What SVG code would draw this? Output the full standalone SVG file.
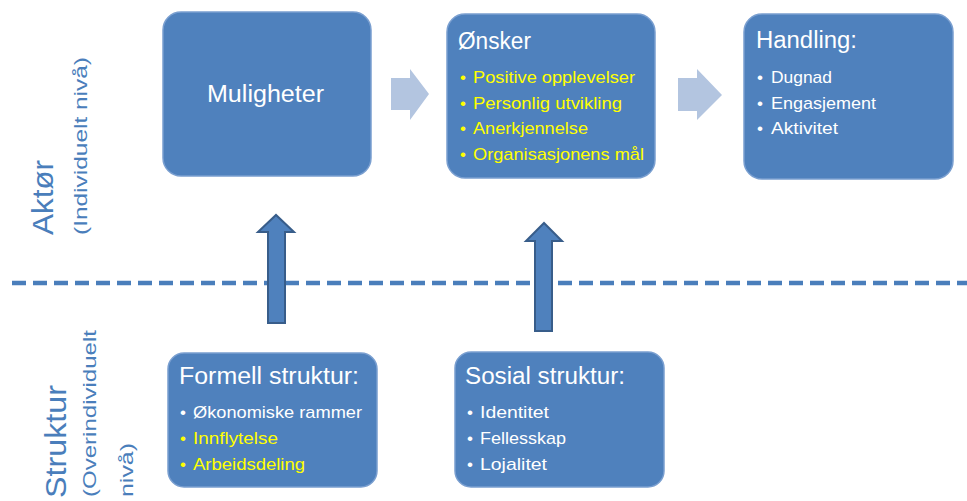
<svg xmlns="http://www.w3.org/2000/svg" width="967" height="501" viewBox="0 0 967 501">
<style>
.box{fill:#4F81BD;stroke:#7A9FD0;stroke-width:1.5}
.t{font-family:"Liberation Sans",Arial,sans-serif;fill:#FFFFFF}
.title{font-size:23px}
.b{font-size:17px}
.y{fill:#FFFF00}
.side{font-family:"Liberation Sans",Arial,sans-serif;fill:#4A7EBB}
.up{fill:#4F81BD;stroke:#385D8A;stroke-width:2}
.right{fill:#B3C5E0}
</style>
<rect width="967" height="501" fill="#FFFFFF"/>
<g id="divider">
<line x1="12" y1="283" x2="967" y2="283" stroke="#4A7EBB" stroke-width="4.5" stroke-dasharray="14 7"/>
</g>
<g id="labels">
<text class="side" font-size="29" transform="translate(53,235) rotate(-90)" textLength="75" lengthAdjust="spacingAndGlyphs">Aktør</text>
<text class="side" font-size="19" transform="translate(87,235) rotate(-90)" textLength="178" lengthAdjust="spacingAndGlyphs">(Individuelt nivå)</text>
<text class="side" font-size="29" transform="translate(66,498) rotate(-90)" textLength="113" lengthAdjust="spacingAndGlyphs">Struktur</text>
<text class="side" font-size="19" transform="translate(96,497) rotate(-90)" textLength="167" lengthAdjust="spacingAndGlyphs">(Overindividuelt</text>
<text class="side" font-size="19" transform="translate(133,497) rotate(-90)" textLength="54" lengthAdjust="spacingAndGlyphs">nivå)</text>
</g>
<g id="connectors">
<polygon class="right" points="391,78 410,78 410,69 429,94 410,120 410,110 391,110"/>
<polygon class="right" points="678,78 697,78 697,69 722,95 697,120 697,111 678,111"/>
<polygon class="up" points="268,323 268,232 258,232 276,215 294,232 285,232 285,323"/>
<polygon class="up" points="535,331 535,241 526,241 544,223 562,241 552,241 552,331"/>
</g>
<g id="muligheter">
<rect class="box" x="163" y="12" width="208" height="164" rx="18"/>
<text class="t title" x="207" y="102" textLength="117" lengthAdjust="spacingAndGlyphs">Muligheter</text>
</g>
<g id="onsker">
<rect class="box" x="447" y="14" width="208" height="164" rx="18"/>
<text class="t title" x="458" y="49" textLength="73" lengthAdjust="spacingAndGlyphs">Ønsker</text>
<g class="t b y">
<text x="460" y="83">•</text><text x="473" y="83" textLength="162" lengthAdjust="spacingAndGlyphs">Positive opplevelser</text>
<text x="460" y="108.5">•</text><text x="473" y="108.5" textLength="149" lengthAdjust="spacingAndGlyphs">Personlig utvikling</text>
<text x="460" y="134">•</text><text x="473" y="134" textLength="115" lengthAdjust="spacingAndGlyphs">Anerkjennelse</text>
<text x="460" y="159.5">•</text><text x="473" y="159.5" textLength="171" lengthAdjust="spacingAndGlyphs">Organisasjonens mål</text>
</g>
</g>
<g id="handling">
<rect class="box" x="744" y="14" width="209" height="165" rx="18"/>
<text class="t title" x="756" y="48" textLength="101" lengthAdjust="spacingAndGlyphs">Handling:</text>
<g class="t b">
<text x="757" y="83">•</text><text x="771" y="83" textLength="61" lengthAdjust="spacingAndGlyphs">Dugnad</text>
<text x="757" y="108.5">•</text><text x="771" y="108.5" textLength="105" lengthAdjust="spacingAndGlyphs">Engasjement</text>
<text x="757" y="134">•</text><text x="771" y="134" textLength="67" lengthAdjust="spacingAndGlyphs">Aktivitet</text>
</g>
</g>
<g id="formell">
<rect class="box" x="168" y="353" width="209" height="134" rx="16"/>
<text class="t title" x="179" y="384" textLength="180" lengthAdjust="spacingAndGlyphs">Formell struktur:</text>
<g class="t b">
<text x="180" y="418">•</text><text x="193" y="418" textLength="169" lengthAdjust="spacingAndGlyphs">Økonomiske  rammer</text>
<text class="y" x="180" y="444">•</text><text class="y" x="193" y="444" textLength="85" lengthAdjust="spacingAndGlyphs">Innflytelse</text>
<text class="y" x="180" y="470">•</text><text class="y" x="193" y="470" textLength="112" lengthAdjust="spacingAndGlyphs">Arbeidsdeling</text>
</g>
</g>
<g id="sosial">
<rect class="box" x="455" y="352" width="209" height="135" rx="16"/>
<text class="t title" x="465" y="384" textLength="160" lengthAdjust="spacingAndGlyphs">Sosial struktur:</text>
<g class="t b">
<text x="467" y="418">•</text><text x="480" y="418" textLength="69" lengthAdjust="spacingAndGlyphs">Identitet</text>
<text x="467" y="444">•</text><text x="480" y="444" textLength="86" lengthAdjust="spacingAndGlyphs">Fellesskap</text>
<text x="467" y="470">•</text><text x="480" y="470" textLength="67" lengthAdjust="spacingAndGlyphs">Lojalitet</text>
</g>
</g>
</svg>
